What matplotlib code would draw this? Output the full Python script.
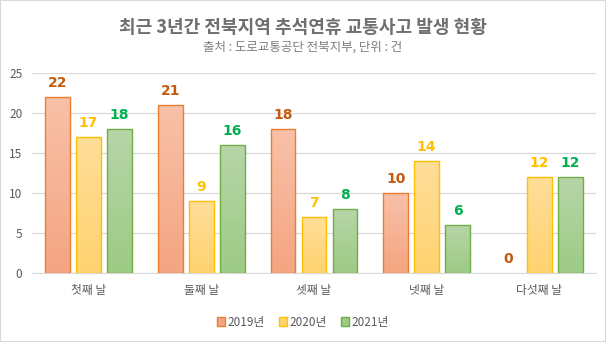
import numpy as np
import matplotlib.pyplot as plt
from matplotlib.colors import LinearSegmentedColormap

plt.rcParams['font.family'] = ['Noto Sans CJK KR', 'DejaVu Sans']

categories = ["첫째 날", "둘째 날", "셋째 날", "넷째 날", "다섯째 날"]
years = ["2019년", "2020년", "2021년"]
v2019 = [22, 21, 18, 10, 0]
v2020 = [17, 9, 7, 14, 12]
v2021 = [18, 16, 8, 6, 12]
series = [v2019, v2020, v2021]

top_colors = ["#F8C1A8", "#FFDE9A", "#B7D5A8"]
bottom_colors = ["#F4A582", "#FFD370", "#9DCB85"]
edge_colors = ["#ED7D31", "#FFC000", "#70AD47"]
label_colors = ["#C55A11", "#FFC000", "#00B050"]

fig = plt.figure(figsize=(6.06, 3.42), dpi=100)
ax = fig.add_axes([0.053, 0.202, 0.930, 0.585])

x = np.arange(len(categories))
width = 0.22
step = 0.275

for i, vals in enumerate(series):
    pos = x + (i - 1) * step
    bars = ax.bar(pos, vals, width, color=bottom_colors[i], edgecolor=edge_colors[i],
                  linewidth=1.0, label=years[i], zorder=3)
    cmap = LinearSegmentedColormap.from_list("g%d" % i, [bottom_colors[i], top_colors[i]])
    for b in bars:
        h = b.get_height()
        if h <= 0:
            b.set_linewidth(0)
            continue
        grad = np.linspace(0, 1, 100).reshape(-1, 1)
        im = ax.imshow(grad, cmap=cmap, origin="lower", aspect="auto",
                       extent=[b.get_x(), b.get_x() + b.get_width(), 0, h], zorder=3)
        im.set_clip_path(b)
        b.set_facecolor("none")
        b.set_zorder(4)
    for p, v in zip(pos, vals):
        ax.text(p, v + 0.9, str(v), ha="center", va="bottom", fontsize=10,
                fontweight="bold", color=label_colors[i], family=["DejaVu Sans"])

ax.set_xlim(-0.5, len(categories) - 0.5)
ax.set_ylim(0, 25)
ax.set_yticks([0, 5, 10, 15, 20, 25])
ax.set_xticks(x)
ax.set_xticklabels(categories)
ax.grid(axis="y", color="#D9D9D9", linewidth=0.9, zorder=0)
for s in ["top", "right", "left"]:
    ax.spines[s].set_visible(False)
ax.spines["bottom"].set_color("#D9D9D9")
ax.tick_params(axis="both", length=0, colors="#595959", labelsize=8.5)
ax.tick_params(axis="x", pad=8)
ax.tick_params(axis="y", pad=7)

fig.text(0.5, 0.92, "최근 3년간 전북지역 추석연휴 교통사고 발생 현황", ha="center", va="center",
         fontsize=13, fontweight="bold", color="#6F6F6F")
fig.text(0.5, 0.862, "출처 : 도로교통공단 전북지부, 단위 : 건", ha="center", va="center",
         fontsize=9, color="#7F7F7F")

leg = fig.legend(loc="center", bbox_to_anchor=(0.5, 0.058), ncol=3, frameon=False,
                 fontsize=8.5, handlelength=0.7, handleheight=0.7, handletextpad=0.2,
                 columnspacing=1.2)
for h, c, e in zip(leg.legend_handles, bottom_colors, edge_colors):
    h.set_facecolor(c)
    h.set_edgecolor(e)
for t in leg.get_texts():
    t.set_color("#595959")

fig.patches.append(plt.Rectangle((0, 0), 1, 1, transform=fig.transFigure, fill=False,
                                 edgecolor="#D9D9D9", linewidth=1.5))

fig.savefig("out.png", dpi=100)
